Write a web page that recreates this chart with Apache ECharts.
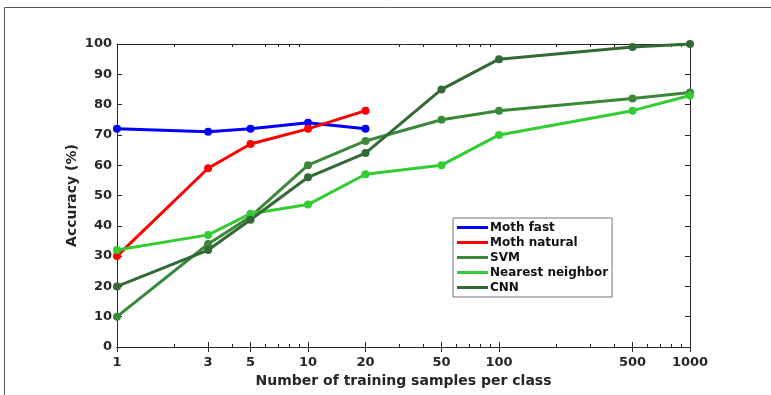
<!DOCTYPE html>
<html><head><meta charset="utf-8">
<script src="https://cdn.jsdelivr.net/npm/echarts@6/dist/echarts.min.js"></script>
<style>html,body{margin:0;padding:0;background:#fff}#c{width:771px;height:395px}</style>
</head><body><div id="c"></div>
<script>
const samples = [1, 3, 5, 10, 20, 50, 100, 500, 1000];
const mothSamples = [1, 3, 5, 10, 20];
const mothFast = [72, 71, 72, 74, 72];
const mothNatural = [30, 59, 67, 72, 78];
const svm = [10, 34, 43, 60, 68, 75, 78, 82, 84];
const nearestNeighbor = [32, 37, 44, 47, 57, 60, 70, 78, 83];
const cnn = [20, 32, 42, 56, 64, 85, 95, 99, 100];
const xTickLabels = [1, 3, 5, 10, 20, 50, 100, 500, 1000];
const xMinorTicks = [2,4,6,7,8,9,30,40,60,70,80,90,200,300,400,600,700,800,900];

const FONT = 'DejaVu Sans';
const TXT = '#262626';
const pair = (xs, ys) => xs.map((x, i) => [x, ys[i]]);

const seriesDefs = [
  {name: 'Moth fast', color: '#0000ff', data: pair(mothSamples, mothFast)},
  {name: 'Moth natural', color: '#ff0000', data: pair(mothSamples, mothNatural)},
  {name: 'SVM', color: '#3a883a', data: pair(samples, svm)},
  {name: 'Nearest neighbor', color: '#33cc33', data: pair(samples, nearestNeighbor)},
  {name: 'CNN', color: '#326a36', data: pair(samples, cnn)}
];

const chart = echarts.init(document.getElementById('c'));
const baseX = {
  type: 'log', logBase: 10, min: 1, max: 1000,
  axisLine: {show: true, lineStyle: {color: TXT, width: 1}},
  splitLine: {show: false}, minorTick: {show: false}
};
chart.setOption({
  animation: false,
  backgroundColor: '#fff',
  graphic: [{type: 'rect', shape: {x: 4.5, y: 7.5, width: 900, height: 500},
    style: {fill: 'none', stroke: '#555', lineWidth: 1}, silent: true}],
  grid: {left: 117, right: 81, top: 44, bottom: 48},
  legend: {
    orient: 'vertical', left: 453, top: 218,
    backgroundColor: '#fff', borderColor: '#777', borderWidth: 1,
    padding: [3, 4, 3, 4], itemGap: 2, itemWidth: 31, itemHeight: 3,
    icon: 'rect',
    textStyle: {fontFamily: FONT, fontWeight: 'bold', fontSize: 12, color: '#111', padding: [0,0,0,-3], lineHeight: 13},
    data: seriesDefs.map(s => s.name)
  },
  xAxis: [
    Object.assign({}, baseX, {
      position: 'bottom',
      name: 'Number of training samples per class', nameLocation: 'middle', nameGap: 26,
      nameTextStyle: {fontFamily: FONT, fontWeight: 'bold', fontSize: 14, color: TXT},
      axisTick: {show: true, inside: true, length: 5, customValues: xTickLabels, lineStyle: {color: TXT}},
      axisLabel: {show: true, customValues: xTickLabels, fontFamily: FONT, fontWeight: 'bold', fontSize: 13, color: TXT, margin: 9, formatter: v => String(Math.round(v))}
    }),
    Object.assign({}, baseX, {
      position: 'top',
      axisTick: {show: true, inside: true, length: 5, customValues: xTickLabels, lineStyle: {color: TXT}},
      axisLabel: {show: false}
    }),
    Object.assign({}, baseX, {
      position: 'bottom',
      axisTick: {show: true, inside: true, length: 3, customValues: xMinorTicks, lineStyle: {color: TXT}},
      axisLabel: {show: false}
    }),
    Object.assign({}, baseX, {
      position: 'top',
      axisTick: {show: true, inside: true, length: 3, customValues: xMinorTicks, lineStyle: {color: TXT}},
      axisLabel: {show: false}
    })
  ],
  yAxis: [
    {
      type: 'value', min: 0, max: 100, interval: 10, position: 'left',
      name: 'Accuracy (%)', nameLocation: 'middle', nameGap: 38, nameMoveOverlap: false,
      nameTextStyle: {fontFamily: FONT, fontWeight: 'bold', fontSize: 14, color: TXT},
      axisLine: {show: true, lineStyle: {color: TXT}},
      axisTick: {show: true, inside: true, length: 5, lineStyle: {color: TXT}},
      axisLabel: {fontFamily: FONT, fontWeight: 'bold', fontSize: 13, color: TXT, margin: 5},
      splitLine: {show: false}
    },
    {
      type: 'value', min: 0, max: 100, interval: 10, position: 'right',
      axisLine: {show: true, lineStyle: {color: TXT}},
      axisTick: {show: true, inside: true, length: 5, lineStyle: {color: TXT}},
      axisLabel: {show: false}, splitLine: {show: false}
    }
  ],
  series: seriesDefs.map(s => ({
    name: s.name, type: 'line', data: s.data, xAxisIndex: 0, yAxisIndex: 0,
    color: s.color, symbol: 'circle', symbolSize: 8,
    lineStyle: {width: 3, color: s.color}, itemStyle: {color: s.color}
  }))
});
</script></body></html>
